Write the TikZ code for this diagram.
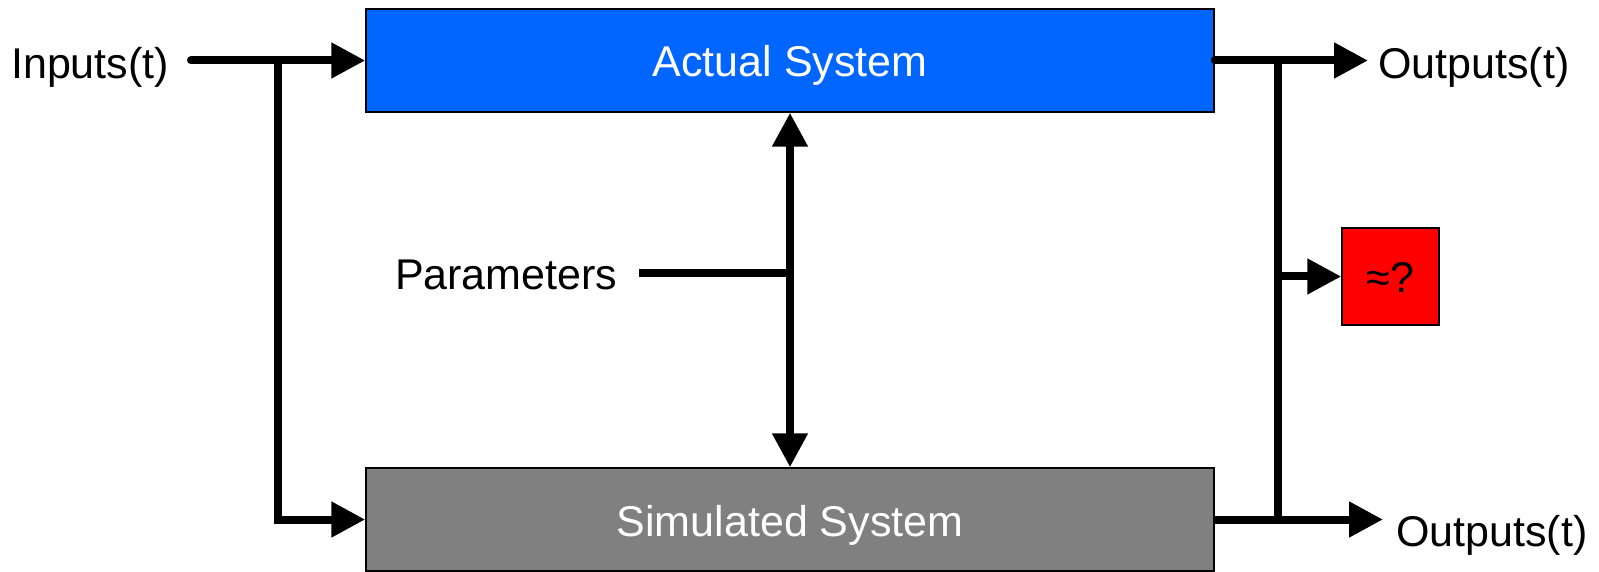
\documentclass[tikz,border=0pt]{standalone}
\usepackage{fontspec}
\setmainfont{Liberation Sans}
\usetikzlibrary{arrows.meta}
\definecolor{actblue}{HTML}{0066FF}
\definecolor{simgray}{HTML}{808080}
\definecolor{cmpred}{HTML}{FF0000}
\begin{document}
\begin{tikzpicture}[x=1pt,y=-1pt,
  every node/.style={font=\fontsize{43}{50}\selectfont},
  sysbox/.style={draw=black, line width=1.5pt, rectangle, inner sep=0pt,
    minimum width=848pt, minimum height=103pt, text=white,
    text height=33pt, text depth=0pt},
  cmpbox/.style={draw=black, line width=1.5pt, fill=cmpred, rectangle, inner sep=0pt,
    minimum width=97pt, minimum height=97pt, text height=33pt, text depth=0pt},
  lbl/.style={inner sep=0pt, anchor=base west},
  conn/.style={line width=8pt},
  arr/.style={line width=8pt, -{Triangle[length=34pt,width=34pt]}},
  darr/.style={line width=8pt, {Triangle[length=34pt,width=34pt]}-{Triangle[length=34pt,width=34pt]}}
]
\useasboundingbox (0,0) rectangle (1599,572);

% boxes
\node[sysbox, fill=actblue] (actual) at (790,60.5) {Actual System};
\node[sysbox, fill=simgray] (sim) at (790,519.5) {Simulated System};
\node[cmpbox] (cmp) at (1390.5,276.5) {≈?};

% labels
\node[lbl] (inp) at (11,79) {Inputs(t)};
\node[lbl] (out1) at (1378,79) {Outputs(t)};
\node[lbl] (out2) at (1396,546) {Outputs(t)};
\node[inner sep=0pt, outer xsep=22pt, anchor=base west] (param) at (373,290) {Parameters};

% coordinates
\coordinate (in0) at (191,60.5);
\coordinate (jin) at (278,60.5);
\coordinate (otip1) at (1368,60.5);
\coordinate (otip2) at (1383,519.5);
\coordinate (jo1) at (1278,60.5);
\coordinate (jo2) at (1278,519.5);
\coordinate (jo3) at (1278,276.5);
\coordinate (pj) at (790,273);

% input connectors
\draw[arr, line cap=round] (in0) -- (actual.west);
\draw[arr] (jin) |- (sim.west);

% output connectors
\draw[arr, line cap=round] (actual.east) -- (otip1);
\draw[arr] (sim.east) -- (otip2);
\draw[conn] (jo1) -- (jo2);
\draw[arr] (jo3) -- (cmp.west);

% parameters
\draw[darr] (actual.south) -- (sim.north);
\draw[conn] (param.east |- pj) -- (pj);
\end{tikzpicture}
\end{document}
